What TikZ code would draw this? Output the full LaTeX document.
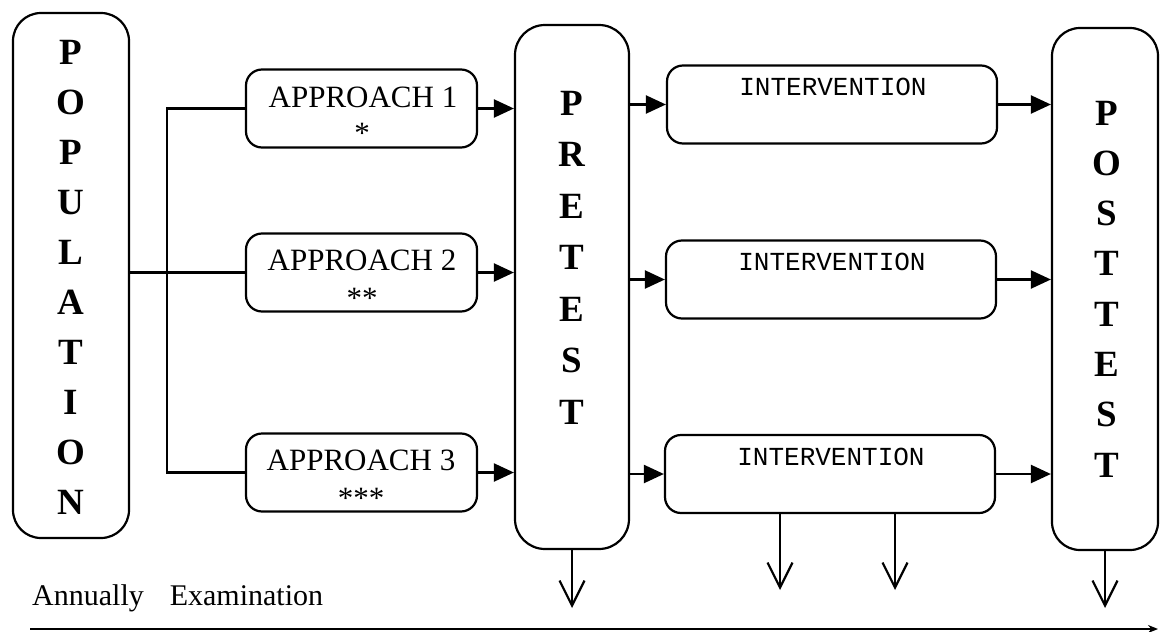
\documentclass[tikz,border=0pt]{standalone}
\usepackage{fontspec}
\setmainfont{Liberation Serif}
\newfontfamily\intfont{Liberation Mono}
\usetikzlibrary{arrows.meta}
\begin{document}
\begin{tikzpicture}[x=1pt,y=-1pt,
  box/.style={draw, line width=2.2pt, rounded corners=16pt, inner sep=0pt},
  tallbox/.style={draw, line width=2.2pt, rounded corners=28pt, inner sep=0pt},
  bigletters/.style={font=\fontsize{37}{50}\selectfont\bfseries, align=center, inner sep=0pt},
  aptext/.style={font=\fontsize{31}{31}\selectfont, inner sep=0pt},
  inttext/.style={font=\intfont\fontsize{26}{26}\selectfont, inner sep=0pt},
  conn/.style={line width=2.2pt},
  fwd/.style={conn, -{Triangle[length=20pt,width=18pt]}},
  down/.style={conn, -{Straight Barb[length=25pt,width=25pt]}},
]
\useasboundingbox (0,0) rectangle (1160,632);
\fill[white] (0,0) rectangle (1160,632);

% tall boxes
\node[tallbox, minimum width=116pt, minimum height=525pt] (pop) at (71,275.5) {};
\node[bigletters] (poptxt) at (71,277) {P\\O\\P\\U\\L\\A\\T\\I\\O\\N};

\node[tallbox, rounded corners=30pt, minimum width=114pt, minimum height=524pt] (pre) at (572,287) {};
\node[bigletters, font=\fontsize{37}{51.5}\selectfont\bfseries] (pretxt) at (572,257.5) {P\\R\\E\\T\\E\\S\\T};

\node[tallbox, minimum width=106pt, minimum height=522pt] (post) at (1105,289) {};
\node[bigletters, font=\fontsize{37}{50.3}\selectfont\bfseries] (posttxt) at (1107,289) {P\\O\\S\\T\\T\\E\\S\\T};

% approach boxes
\node[box, minimum width=231pt, minimum height=78pt] (a1) at (361.5,108.5) {};
\node[box, minimum width=231pt, minimum height=78pt] (a2) at (361.5,272.5) {};
\node[box, minimum width=231pt, minimum height=78pt] (a3) at (361.5,472.5) {};
\node[aptext] (a1t) at (363,97) {APPROACH 1};
\node[aptext] (a1s) at (362,133) {*};
\node[aptext] (a2t) at (362,260) {APPROACH 2};
\node[aptext] (a2s) at (362,298) {**};
\node[aptext] (a3t) at (361,460) {APPROACH 3};
\node[aptext] (a3s) at (361,498) {***};

% intervention boxes
\node[box, minimum width=330pt, minimum height=78pt] (i1) at (832,104.5) {};
\node[box, minimum width=330pt, minimum height=78pt] (i2) at (831,279.5) {};
\node[box, minimum width=330pt, minimum height=78pt] (i3) at (830,474) {};
\node[inttext] (i1t) at (833,87) {INTERVENTION};
\node[inttext] (i2t) at (832,262) {INTERVENTION};
\node[inttext] (i3t) at (831,457) {INTERVENTION};

% branching
\coordinate (br) at (167,0);
\draw[conn] (a1.west) -- (a1.west -| br) -- (a3.west -| br) -- (a3.west);
\draw[conn] (pop.east |- a2.west) -- (a2.west);

% forward arrows
\foreach \s in {a1,a2,a3}{\draw[fwd] (\s.east) -- (\s.east -| pre.west);}
\foreach \t in {i1,i2,i3}{\draw[fwd] (pre.east |- \t.west) -- (\t.west);}
\foreach \t in {i1,i2,i3}{\draw[fwd] (\t.east) -- (\t.east -| post.west);}

% downward arrows
\coordinate (d0) at (572,608);
\coordinate (d1) at (780,590);
\coordinate (d2) at (895,590);
\coordinate (d3) at (1105,608);
\draw[down] (pre.south) -- (d0);
\draw[down] (i3.south -| d1) -- (d1);
\draw[down] (i3.south -| d2) -- (d2);
\draw[down] (post.south) -- (d3);

% time line
\node[anchor=base west, inner sep=0pt, font=\fontsize{30}{30}\selectfont] (ann) at (32,605) {Annually\hspace{26pt}Examination};
\coordinate (tl0) at (30,629);
\coordinate (tl1) at (1158,629);
\draw[line width=2.5pt, -{Stealth[length=10pt,width=8pt]}] (tl0) -- (tl1);
\end{tikzpicture}
\end{document}
